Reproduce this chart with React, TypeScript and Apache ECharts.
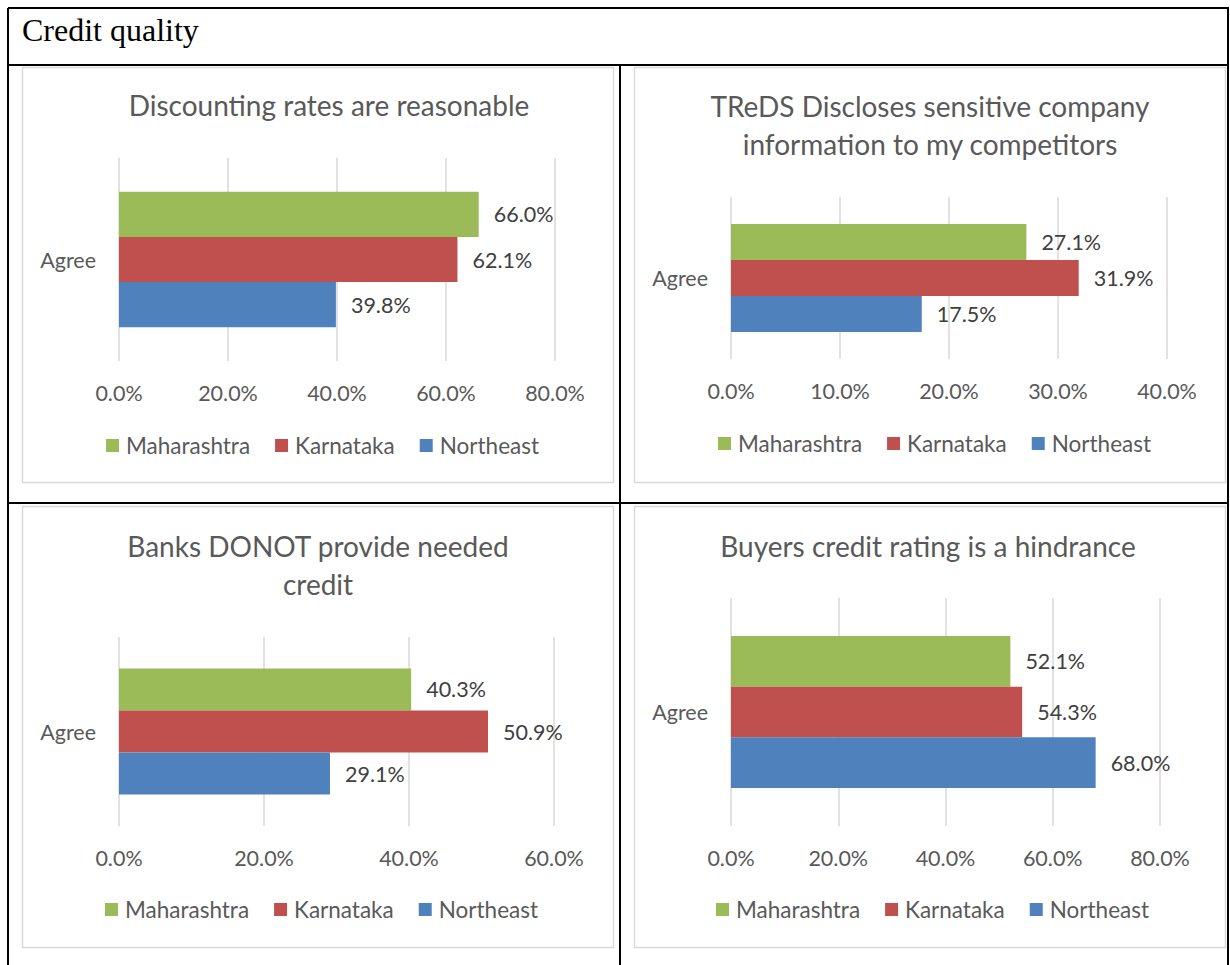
import React, { useEffect, useRef } from 'react';
import * as echarts from 'echarts';

// ---------- data ----------
const pageTitle = 'Credit quality';
const categories = ['Agree'];
const seriesNames = ['Maharashtra', 'Karnataka', 'Northeast'];
const seriesColors = ['#9BBB59', '#C0504D', '#4F81BD'];
const discountingValues = [66.0, 62.1, 39.8];
const tredsValues = [27.1, 31.9, 17.5];
const banksValues = [40.3, 50.9, 29.1];
const buyersValues = [52.1, 54.3, 68.0];
const chartTitles = [
  'Discounting rates are reasonable',
  'TReDS Discloses sensitive company\ninformation to my competitors',
  'Banks DONOT provide needed\ncredit',
  'Buyers credit rating is a hindrance',
];
const axisMaxima = [80, 40, 60, 80];
const axisIntervals = [20, 10, 20, 20];
const allValues = [discountingValues, tredsValues, banksValues, buyersValues];

// ---------- layout ----------
const FONT = 'Lato, "Noto Sans", sans-serif';
const TEXT = '#595959';
const chartBoxes = [
  { x: 22, y: 67, w: 592, h: 416, grid: { left: 97, top: 91, width: 436, height: 203 }, titleX: 302, titleTop: 33, legendMid: 374, legendLeft: 79 },
  { x: 634, y: 67, w: 592, h: 416, grid: { left: 97, top: 130, width: 436, height: 162 }, titleX: 291, titleTop: 34, legendMid: 372, legendLeft: 79 },
  { x: 22, y: 506, w: 592, h: 442, grid: { left: 97, top: 131, width: 435, height: 189 }, titleX: 291, titleTop: 35, legendMid: 399, legendLeft: 78 },
  { x: 634, y: 506, w: 592, h: 442, grid: { left: 97, top: 92, width: 429, height: 228 }, titleX: 289, titleTop: 35, legendMid: 399, legendLeft: 77 },
];
const TITLE_SIZE = 28;
const TITLE_LH = 38;
const AXIS_SIZE = 21.5;
const LEGEND_SIZE = 22.5;

function chartOption(i: number): any {
  const values = allValues[i];
  const box = chartBoxes[i];
  const order = [0, 1, 2];
  return {
    animation: false,
    backgroundColor: 'transparent',
    title: {
      text: chartTitles[i],
      left: box.titleX,
      textAlign: 'center',
      top: box.titleTop - TITLE_LH / 2,
      textStyle: { fontFamily: FONT, fontSize: TITLE_SIZE, fontWeight: 'normal', color: TEXT, lineHeight: TITLE_LH },
    },
    legend: {
      data: seriesNames,
      left: box.legendLeft,
      top: box.legendMid - 12,
      icon: 'rect',
      itemWidth: 13,
      itemHeight: 13,
      itemGap: 25,
      textStyle: { fontFamily: FONT, fontSize: LEGEND_SIZE, color: TEXT, padding: [0, 0, 0, 2] },
    },
    grid: { ...box.grid },
    xAxis: {
      type: 'value',
      min: 0,
      max: axisMaxima[i],
      interval: axisIntervals[i],
      axisLine: { show: false },
      axisTick: { show: false },
      splitLine: { show: true, lineStyle: { color: '#d9d9d9', width: 1.5 } },
      axisLabel: {
        fontFamily: FONT,
        fontSize: AXIS_SIZE,
        color: TEXT,
        margin: 21,
        formatter: (v: number) => v.toFixed(1) + '%',
      },
    },
    yAxis: {
      type: 'category',
      data: categories,
      axisLine: { show: false },
      axisTick: { show: false },
      axisLabel: { fontFamily: FONT, fontSize: AXIS_SIZE, color: TEXT, margin: 23 },
    },
    series: order.map((k) => ({
      type: 'bar',
      name: seriesNames[k],
      data: categories.map(() => values[k]),
      itemStyle: { color: seriesColors[k] },
      barGap: '0%',
      barCategoryGap: '33.3%',
      label: {
        show: true,
        position: 'right',
        distance: 15,
        fontFamily: FONT,
        fontSize: AXIS_SIZE,
        color: '#404040',
        formatter: (p: any) => Number(p.value).toFixed(1) + '%',
      },
    })),
  };
}

function backgroundOption(): any {
  const black = { stroke: '#000', lineWidth: 2 };
  const grey = { stroke: '#d9d9d9', lineWidth: 1.5, fill: 'transparent' };
  const lines = [
    [8, 8, 1229, 8],
    [8, 8, 8, 965],
    [1228, 8, 1228, 965],
    [8, 65, 1229, 65],
    [620, 65, 620, 965],
    [8, 503, 1229, 503],
  ];
  return {
    animation: false,
    graphic: [
      ...lines.map((l) => ({ type: 'line', shape: { x1: l[0], y1: l[1], x2: l[2], y2: l[3] }, style: black, silent: true })),
      ...chartBoxes.map((b) => ({ type: 'rect', shape: { x: b.x + 0.5, y: b.y + 0.5, width: b.w - 1, height: b.h - 1 }, style: grey, silent: true })),
      {
        type: 'text',
        x: 22,
        y: 30,
        style: { text: pageTitle, fontFamily: '"Liberation Serif", "Times New Roman", serif', fontSize: 32, fill: '#000', textVerticalAlign: 'middle' },
      },
    ],
  };
}

function EChart({ option, style }: { option: any; style: React.CSSProperties }) {
  const ref = useRef<HTMLDivElement>(null);
  useEffect(() => {
    if (!ref.current) return;
    const chart = echarts.init(ref.current, undefined, { renderer: 'svg' });
    chart.setOption(option);
    return () => chart.dispose();
  }, []);
  return <div ref={ref} style={{ position: 'absolute', ...style }} />;
}

export default function App() {
  return (
    <div style={{ position: 'absolute', left: 0, top: 0, width: 1230, height: 965, background: '#fff', overflow: 'hidden' }}>
      <EChart option={backgroundOption()} style={{ left: 0, top: 0, width: 1230, height: 965 }} />
      {chartBoxes.map((b, i) => (
        <EChart key={i} option={chartOption(i)} style={{ left: b.x, top: b.y, width: b.w, height: b.h }} />
      ))}
    </div>
  );
}
